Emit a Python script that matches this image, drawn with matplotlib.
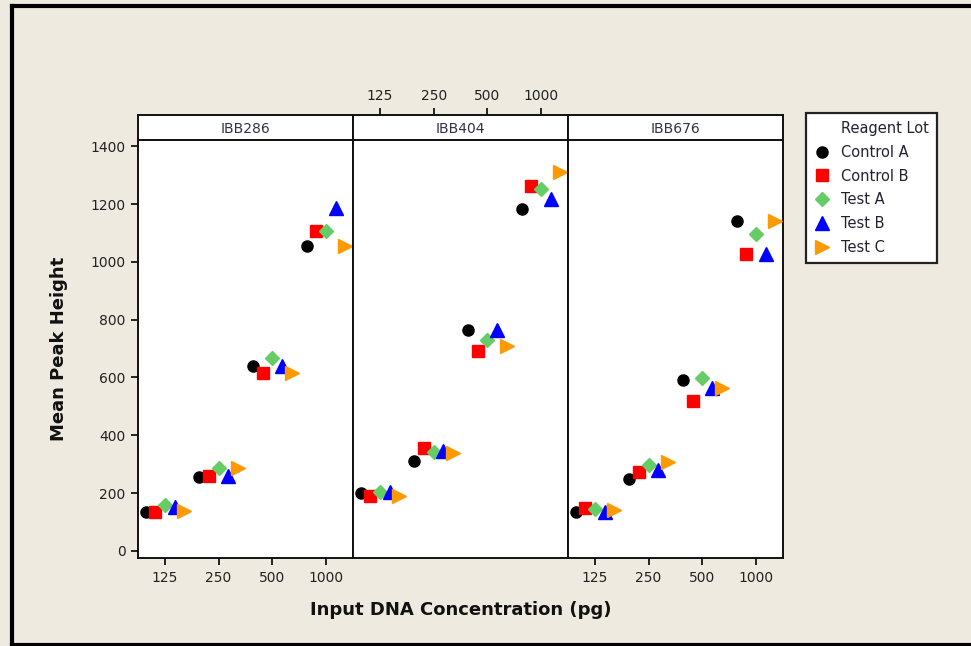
import numpy as np
import matplotlib
matplotlib.use('Agg')
import matplotlib.pyplot as plt
from matplotlib.lines import Line2D

plt.rcParams['font.family'] = ['DejaVu Sans']

# ---- data ----
conc = [125, 250, 500, 1000]
panels = ['IBB286', 'IBB404', 'IBB676']
lots = ['Control A', 'Control B', 'Test A', 'Test B', 'Test C']

# mean peak height per panel, lot -> values at 125/250/500/1000 pg
ibb286 = {
    'Control A': [133, 254, 638, 1055],
    'Control B': [133, 260, 615, 1108],
    'Test A':    [160, 285, 668, 1108],
    'Test B':    [152, 258, 640, 1188],
    'Test C':    [138, 285, 615, 1055],
}
ibb404 = {
    'Control A': [199, 312, 765, 1183],
    'Control B': [191, 355, 690, 1264],
    'Test A':    [205, 343, 731, 1252],
    'Test B':    [205, 344, 765, 1217],
    'Test C':    [191, 338, 708, 1311],
}
ibb676 = {
    'Control A': [135, 249, 592, 1142],
    'Control B': [147, 272, 517, 1027],
    'Test A':    [145, 298, 598, 1096],
    'Test B':    [134, 281, 565, 1027],
    'Test C':    [141, 306, 563, 1142],
}
data = [ibb286, ibb404, ibb676]

# ---- styles ----
BG = '#EEEAE0'
STYLE = {
    'Control A': dict(marker='o', color='black', ms=8),
    'Control B': dict(marker='s', color='#FF0000', ms=8),
    'Test A':    dict(marker='D', color='#66CC66', ms=7.5),
    'Test B':    dict(marker='^', color='#0000FF', ms=9.5),
    'Test C':    dict(marker='>', color='#FF9900', ms=9.5),
}
DODGE = [-0.36, -0.18, 0.0, 0.18, 0.36]   # in doublings (log2 units)
TXT = '#222222'

fig = plt.figure(figsize=(9.71, 6.46), dpi=100, facecolor=BG)

W, H = 971, 646
left, right = 138, 783
top, bottom = 140, 558
pw = (right - left) / 3
xl = np.log2(conc)
xlim = (xl[0] - 0.5, xl[-1] + 0.5)

axes = []
for i, name in enumerate(panels):
    x0 = left + i * pw
    ax = fig.add_axes([x0 / W, 1 - bottom / H, pw / W, (bottom - top) / H])
    ax.set_facecolor('white')
    for j, lot in enumerate(lots):
        st = STYLE[lot]
        ax.plot(xl + DODGE[j], data[i][lot], ls='none', marker=st['marker'],
                color=st['color'], ms=st['ms'], mec=st['color'], zorder=3)
    ax.set_xlim(*xlim)
    ax.set_ylim(-25, 1422)
    ax.set_xticks(xl)
    ax.set_xticklabels([str(c) for c in conc])
    ax.tick_params(axis='both', labelsize=10, labelcolor=TXT, length=5,
                   width=1.2, direction='out', pad=4)
    for s in ax.spines.values():
        s.set_linewidth(1.4)
        s.set_color('#111111')
    if i == 1:
        ax.tick_params(axis='x', bottom=False, labelbottom=False,
                       top=False, labeltop=False)
    else:
        ax.tick_params(axis='x', top=False, labeltop=False)
    if i == 0:
        ax.set_yticks(range(0, 1401, 200))
        ax.set_ylabel('Mean Peak Height', fontsize=13, fontweight='bold',
                      color='#111111', labelpad=16)
    else:
        ax.tick_params(axis='y', left=False, labelleft=False)
    # strip on top of each panel
    sx = fig.add_axes([x0 / W, 1 - top / H, pw / W, 25 / H])
    sx.set_facecolor('white')
    sx.set_xticks([]); sx.set_yticks([])
    for s in sx.spines.values():
        s.set_linewidth(1.4)
        s.set_color('#111111')
    sx.text(0.5, 0.45, name, ha='center', va='center', fontsize=10, color='#333344',
            transform=sx.transAxes)
    if i == 1:
        sx.set_xlim(*xlim)
        sx.set_xticks(xl)
        sx.set_xticklabels([str(c) for c in conc])
        sx.xaxis.set_ticks_position('top')
        sx.tick_params(axis='x', labelsize=10, labelcolor=TXT, length=5,
                       width=1.2, pad=4, bottom=False, labelbottom=False)
    axes.append(ax)

fig.text((left + right) / 2 / W, 1 - 610 / H, 'Input DNA Concentration (pg)',
         ha='center', va='center', fontsize=13, fontweight='bold', color='#111111')

# legend: title as first (handle-less) entry so it lines up with the labels
handles = [Line2D([], [], ls='none')]
labels = ['Reagent Lot']
for lot in lots:
    st = STYLE[lot]
    handles.append(Line2D([], [], ls='none', marker=st['marker'], color=st['color'],
                          ms=st['ms']))
    labels.append(lot)
leg = fig.legend(handles, labels, loc='upper left',
                 bbox_to_anchor=(806 / W, 1 - 113 / H), fontsize=10.5,
                 frameon=True, fancybox=False, edgecolor='#222222', framealpha=1,
                 handlelength=1.1, handletextpad=0.75, labelspacing=0.6,
                 borderpad=0.55, borderaxespad=0)
leg.get_frame().set_linewidth(1.6)
for t in leg.get_texts():
    t.set_color('#222233')

# outer frame (left, top, bottom; right edge cut off)
fx = 11.5 / W
fig.add_artist(Line2D([fx, fx], [1 - 644.5 / H, 1 - 6 / H], color='black', lw=3,
                      transform=fig.transFigure))
fig.add_artist(Line2D([fx, 1.0], [1 - 6 / H, 1 - 6 / H], color='black', lw=3,
                      transform=fig.transFigure))
fig.add_artist(Line2D([fx, 1.0], [1 - 644.5 / H, 1 - 644.5 / H], color='black', lw=3,
                      transform=fig.transFigure))

fig.savefig('out.png', dpi=100, facecolor=BG)
